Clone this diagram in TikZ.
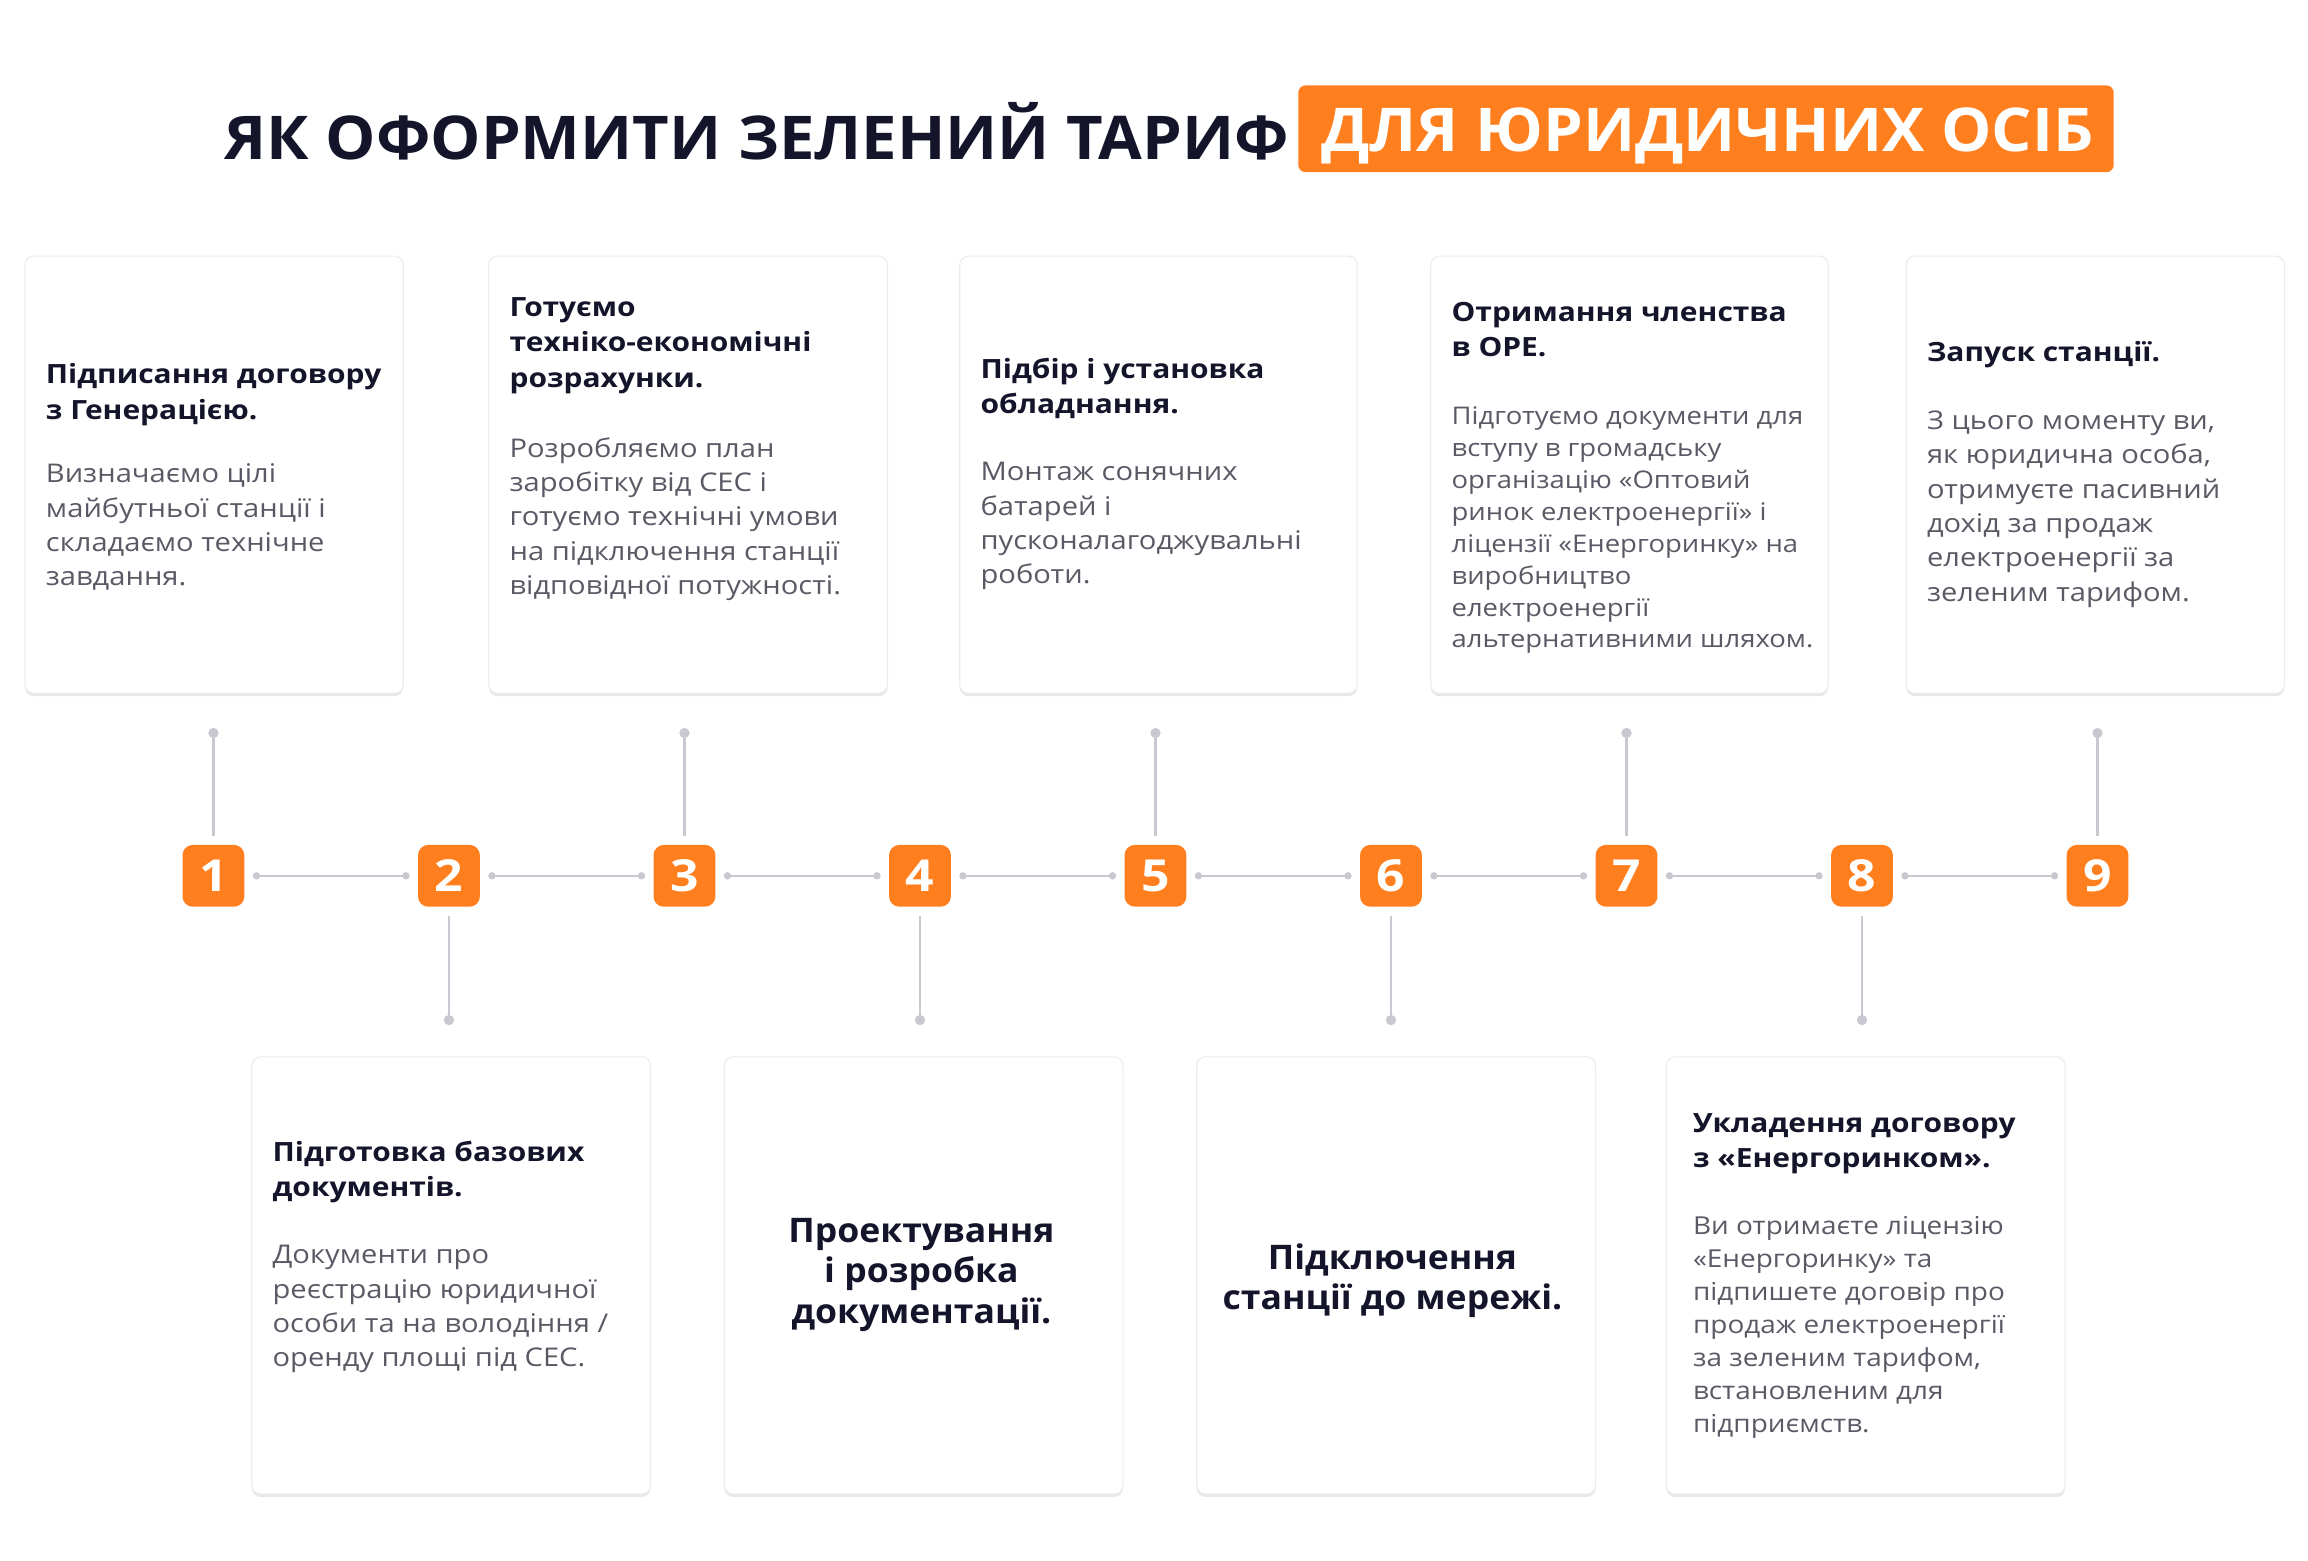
\documentclass[tikz,border=0pt]{standalone}
\usepackage{fontspec}
\setmainfont[FakeStretch=1.13]{Open Sans}
\newfontfamily\ttlfont[FakeStretch=1.05]{Open Sans}
\usetikzlibrary{shadows}
\definecolor{navy}{HTML}{14142B}
\definecolor{org}{HTML}{FF7F1F}
\definecolor{bodyc}{HTML}{5A5A66}
\definecolor{lnc}{HTML}{C8C8D0}
\tikzset{x=1pt,y=-1pt,
 card/.style={fill=white,rounded corners=6pt,draw=black!7,line width=0.8pt,drop shadow={shadow xshift=0pt,shadow yshift=-2pt,opacity=0.18,fill=black!50}},
 ttl/.style={anchor=north west,align=left,inner sep=0,text=navy,font=\fontsize{18}{24}\selectfont\bfseries},
 bdy/.style={anchor=north west,align=left,inner sep=0,text=bodyc,font=\fontsize{17.5}{23.3}\selectfont},
 ctr/.style={align=center,inner sep=0,text=navy,font=\ttlfont\fontsize{23}{27.5}\selectfont\bfseries},
 badge/.style={fill=org,rounded corners=7pt,minimum width=42pt,minimum height=42pt,inner sep=0,text=white,font=\fontsize{30}{30}\selectfont\bfseries},
 conn/.style={draw=lnc,line width=1.6pt},
 dot/.style={circle,fill=lnc,inner sep=0,minimum size=7pt}}
\begin{document}
\begin{tikzpicture}
\useasboundingbox (0,0) rectangle (1568,1060);
\fill[white] (0,0) rectangle (1568,1060);
% title
\node[anchor=east,inner sep=0,text=navy,font=\ttlfont\fontsize{41}{41}\selectfont\bfseries] (t1) at (876,89) {ЯК ОФОРМИТИ ЗЕЛЕНИЙ ТАРИФ};
\fill[org,rounded corners=5pt] (882,58) rectangle (1436,117);
\node[inner sep=0,text=white,font=\ttlfont\fontsize{41}{41}\selectfont\bfseries] (t2) at (1160,92) {ДЛЯ ЮРИДИЧНИХ ОСІБ};
% cards
\foreach \a/\b/\c/\d in {17/174/274/471,332/174/603/471,652/174/922/471,972/174/1242/471,1295/174/1552/471,171/718/442/1015,492/718/763/1015,813/718/1084/1015,1132/718/1403/1015}
 \filldraw[card] (\a,\b) rectangle (\c,\d);
\node[ttl] (c1t) at (31,247) {Підписання договору\\з Генерацією.};
\node[bdy] (c1b) at (31,315) {Визначаємо цілі\\майбутньої станції і\\складаємо технічне\\завдання.};
\node[ttl] (c2t) at (346,202) {Готуємо\\техніко-економічні\\розрахунки.};
\node[bdy] (c2b) at (346,297) {Розробляємо план\\заробітку від СЕС і\\готуємо технічні умови\\на підключення станції\\відповідної потужності.};
\node[ttl] (c3t) at (666,243) {Підбір і установка\\обладнання.};
\node[bdy] (c3b) at (666,314) {Монтаж сонячних\\батарей і\\пусконалагоджувальні\\роботи.};
\node[ttl] (c4t) at (986,205) {Отримання членства\\в ОРЕ.};
\node[bdy,font=\fontsize{16.5}{21.7}\selectfont] (c4b) at (986,276) {Підготуємо документи для\\вступу в громадську\\організацію «Оптовий\\ринок електроенергії» і\\ліцензії «Енергоринку» на\\виробництво\\електроенергії\\альтернативними шляхом.};
\node[ttl] (c5t) at (1309,232) {Запуск станції.};
\node[bdy] (c5b) at (1309,279) {З цього моменту ви,\\як юридична особа,\\отримуєте пасивний\\дохід за продаж\\електроенергії за\\зеленим тарифом.};
\node[ttl] (b1t) at (185,775) {Підготовка базових\\документів.};
\node[bdy] (b1b) at (185,846) {Документи про\\реєстрацію юридичної\\особи та на володіння /\\оренду площі під СЕС.};
\node[ctr] (b2) at (626,866) {Проектування\\і розробка\\документації.};
\node[ctr] (b3) at (946,870) {Підключення\\станції до мережі.};
\node[ttl] (b4t) at (1150,756) {Укладення договору\\з «Енергоринком».};
\node[bdy,font=\fontsize{16.8}{22.5}\selectfont] (b4b) at (1150,826) {Ви отримаєте ліцензію\\«Енергоринку» та\\підпишете договір про\\продаж електроенергії\\за зеленим тарифом,\\встановленим для\\підприємств.};
% badges
\foreach \i/\x in {1/145,2/305,3/465,4/625,5/785,6/945,7/1105,8/1265,9/1425}
 \node[badge] (n\i) at (\x,595) {\i};
\foreach \i/\j in {1/2,2/3,3/4,4/5,5/6,6/7,7/8,8/9}{
 \draw[conn] ([xshift=8pt]n\i.east) -- ([xshift=-8pt]n\j.west);
 \fill[lnc] ([xshift=8pt]n\i.east) circle (2.5pt) ([xshift=-8pt]n\j.west) circle (2.5pt);}
\foreach \i/\x in {1/145,3/465,5/785,7/1105,9/1425}{
 \coordinate (u\i) at (\x,498);
 \draw[conn] (u\i) -- ([yshift=6pt]n\i.north);
 \node[dot] at (u\i) {};}
\foreach \i/\x in {2/305,4/625,6/945,8/1265}{
 \coordinate (d\i) at (\x,693);
 \draw[conn] ([yshift=-6pt]n\i.south) -- (d\i);
 \node[dot] at (d\i) {};}
\end{tikzpicture}
\end{document}
